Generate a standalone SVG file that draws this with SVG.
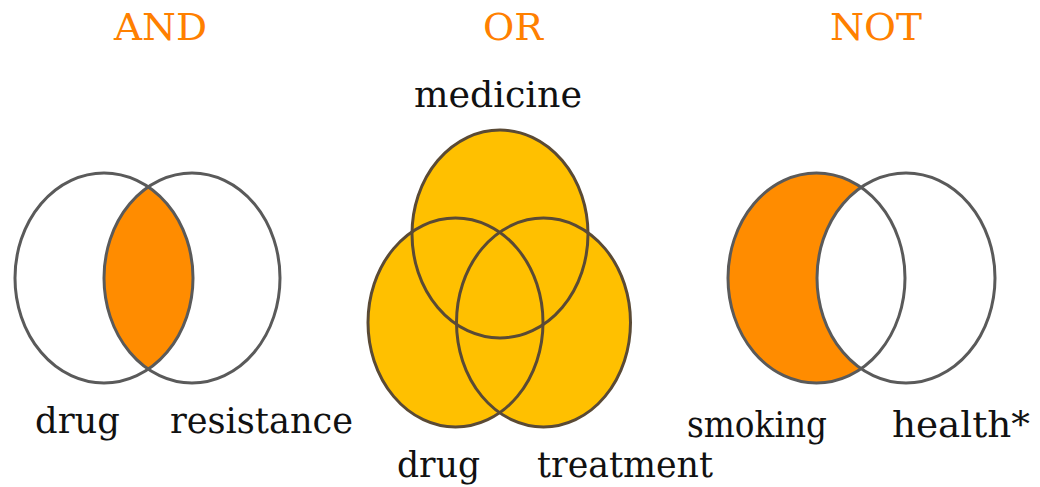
<svg xmlns="http://www.w3.org/2000/svg" width="1040" height="487" viewBox="0 0 1040 487">
<style>
.title{font-family:"DejaVu Serif","Liberation Serif",serif;font-size:38px;fill:#FF8000}
.lbl{font-family:"DejaVu Serif","Liberation Serif",serif;font-size:35px;fill:#111}
.ring{fill:none;stroke:#5a5a5a;stroke-width:3}
.ringor{fill:none;stroke:#5a4a35;stroke-width:3}
</style>
<defs>
<clipPath id="andclip"><ellipse cx="192" cy="278" rx="88" ry="105"/></clipPath>
</defs>
<rect width="1040" height="487" fill="#fff"/>
<g id="and">
<text class="title" x="114" y="40" textLength="93" lengthAdjust="spacingAndGlyphs">AND</text>
<ellipse cx="104" cy="278" rx="89" ry="105" fill="#FF8C00" clip-path="url(#andclip)"/>
<ellipse class="ring" cx="104" cy="278" rx="89" ry="105"/>
<ellipse class="ring" cx="192" cy="278" rx="88" ry="105"/>
<text class="lbl" x="35" y="433" textLength="85" lengthAdjust="spacingAndGlyphs">drug</text>
<text class="lbl" x="170" y="433" textLength="183" lengthAdjust="spacingAndGlyphs">resistance</text>
</g>
<g id="or">
<text class="title" x="483" y="40" textLength="60" lengthAdjust="spacingAndGlyphs">OR</text>
<text class="lbl" x="414" y="107" textLength="168" lengthAdjust="spacingAndGlyphs">medicine</text>
<ellipse cx="500" cy="234" rx="88" ry="104" fill="#FFC000"/>
<ellipse cx="455.5" cy="322.5" rx="87.5" ry="104.5" fill="#FFC000"/>
<ellipse cx="543.5" cy="322.5" rx="87" ry="104.5" fill="#FFC000"/>
<ellipse class="ringor" cx="500" cy="234" rx="88" ry="104"/>
<ellipse class="ringor" cx="455.5" cy="322.5" rx="87.5" ry="104.5"/>
<ellipse class="ringor" cx="543.5" cy="322.5" rx="87" ry="104.5"/>
<text class="lbl" x="397" y="477" textLength="83" lengthAdjust="spacingAndGlyphs">drug</text>
<text class="lbl" x="537" y="477" textLength="176" lengthAdjust="spacingAndGlyphs">treatment</text>
</g>
<g id="not">
<text class="title" x="830" y="40" textLength="92" lengthAdjust="spacingAndGlyphs">NOT</text>
<ellipse cx="816.5" cy="278" rx="88.5" ry="105" fill="#FF8C00"/>
<ellipse cx="906" cy="278" rx="89" ry="105" fill="#fff"/>
<ellipse class="ring" cx="816.5" cy="278" rx="88.5" ry="105"/>
<ellipse class="ring" cx="906" cy="278" rx="89" ry="105"/>
<text class="lbl" x="687" y="437" textLength="140" lengthAdjust="spacingAndGlyphs">smoking</text>
<text class="lbl" x="892" y="437" textLength="138" lengthAdjust="spacingAndGlyphs">health*</text>
</g>
<g id="connectors"/>
</svg>
